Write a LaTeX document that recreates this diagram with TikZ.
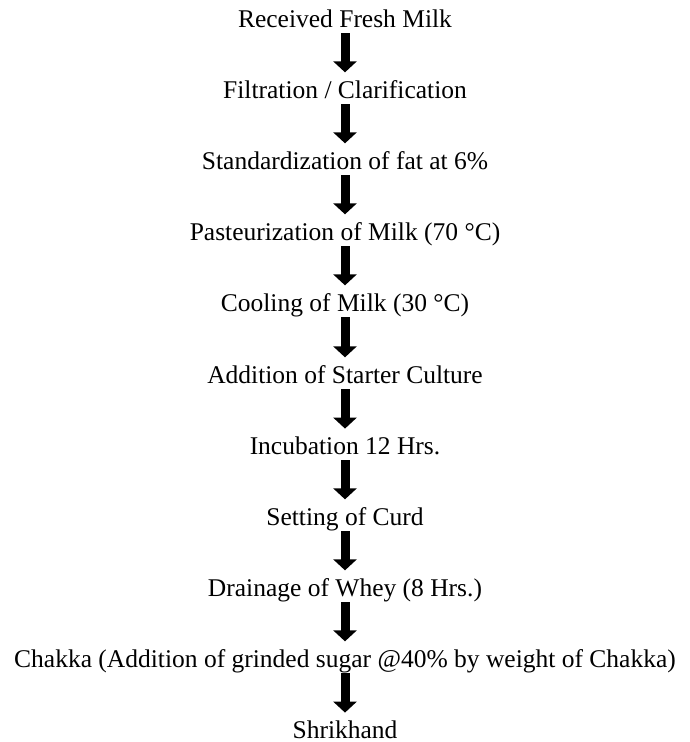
\documentclass[tikz,border=0pt]{standalone}
\usepackage{fontspec}
\setmainfont{Liberation Serif}
\usetikzlibrary{positioning,arrows.meta}
\tikzset{
  stage/.style={inner sep=0pt,font=\fontsize{25.5}{30}\selectfont,anchor=base},
  flow/.style={line width=9pt,-{Triangle[width=23pt,length=11pt]},shorten <=6pt,shorten >=7.5pt}
}

\begin{document}
\begin{tikzpicture}[x=1pt,y=-1pt]
\useasboundingbox (0,0) rectangle (689,742);
% process steps
\node[stage] (milk) at (345,27) {Received Fresh Milk};
\node[stage] (filt) at (345,98) {Filtration / Clarification};
\node[stage] (std) at (345,169) {Standardization of fat at 6\%};
\node[stage] (past) at (345,240) {Pasteurization of Milk (70 \textdegree C)};
\node[stage] (cool) at (345,311) {Cooling of Milk (30 \textdegree C)};
\node[stage] (start) at (345,383) {Addition of Starter Culture};
\node[stage] (incub) at (345,454) {Incubation 12 Hrs.};
\node[stage] (curd) at (345,525) {Setting of Curd};
\node[stage] (whey) at (345,596) {Drainage of Whey (8 Hrs.)};
\node[stage] (chakka) at (345,667) {Chakka (Addition of grinded sugar @40\% by weight of Chakka)};
\node[stage] (shri) at (345,738) {Shrikhand};
% arrows
\foreach \a/\b in {milk/filt,filt/std,std/past,past/cool,cool/start,start/incub,incub/curd,curd/whey,whey/chakka,chakka/shri}
  \draw[flow] (\a.base) -- (\b.north);
\end{tikzpicture}
\end{document}
